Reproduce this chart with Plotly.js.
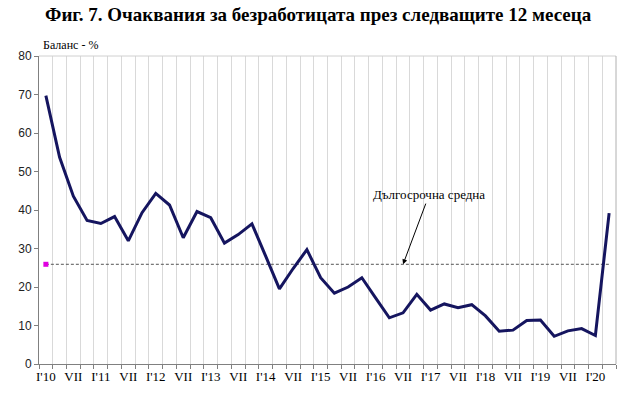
<!DOCTYPE html>
<html>
<head>
<meta charset="utf-8">
<script src="https://cdn.plot.ly/plotly-3.0.1.min.js"></script>
<style>html,body{margin:0;padding:0;background:#fff;}#chart{width:630px;height:397px;}</style>
</head>
<body>
<div id="chart"></div>
<script>
// Quarters Q1 2010 .. Q2 2020
const quarters = [
  "2010Q1","2010Q2","2010Q3","2010Q4","2011Q1","2011Q2","2011Q3","2011Q4",
  "2012Q1","2012Q2","2012Q3","2012Q4","2013Q1","2013Q2","2013Q3","2013Q4",
  "2014Q1","2014Q2","2014Q3","2014Q4","2015Q1","2015Q2","2015Q3","2015Q4",
  "2016Q1","2016Q2","2016Q3","2016Q4","2017Q1","2017Q2","2017Q3","2017Q4",
  "2018Q1","2018Q2","2018Q3","2018Q4","2019Q1","2019Q2","2019Q3","2019Q4",
  "2020Q1","2020Q2"
];
const balance = [
  69.7, 53.7, 43.6, 37.3, 36.5, 38.3, 32.0, 39.3,
  44.3, 41.3, 32.8, 39.6, 38.0, 31.4, 33.6, 36.4,
  28.0, 19.5, 24.8, 29.7, 22.4, 18.4, 20.0, 22.4,
  17.2, 12.0, 13.3, 18.1, 14.0, 15.6, 14.6, 15.4,
  12.5, 8.5, 8.8, 11.3, 11.4, 7.2, 8.6, 9.2,
  7.4, 39.2
];
const longTermAvg = 25.9;
const tickLabels = ["I'10","VII","I'11","VII","I'12","VII","I'13","VII","I'14","VII",
  "I'15","VII","I'16","VII","I'17","VII","I'18","VII","I'19","VII","I'20"];

const xIdx = quarters.map((q, i) => i);
const tickIdx = tickLabels.map((t, i) => i * 2);
const lastIdx = quarters.length - 1;
const SERIF = 'Liberation Serif, Times New Roman, serif';

const traces = [
  {
    x: [0, lastIdx], y: [longTermAvg, longTermAvg],
    type: 'scatter', mode: 'lines',
    line: {color: '#555555', width: 1, dash: '3px,2px'},
    hoverinfo: 'skip', showlegend: false
  },
  {
    x: [0], y: [longTermAvg],
    type: 'scatter', mode: 'markers',
    marker: {color: '#e000e0', size: 5, symbol: 'square'},
    showlegend: false
  },
  {
    x: xIdx, y: balance,
    type: 'scatter', mode: 'lines',
    line: {color: '#15155f', width: 3},
    showlegend: false
  }
];

const layout = {
  width: 630, height: 397,
  margin: {l: 39, r: 14, t: 56, b: 33},
  paper_bgcolor: '#ffffff', plot_bgcolor: '#ffffff',
  title: {
    text: '<b>Фиг. 7. Очаквания за безработицата през следващите 12 месеца</b>',
    font: {family: SERIF, size: 19, color: '#000'},
    x: 0.505, xanchor: 'center', y: 0.965, yanchor: 'middle'
  },
  xaxis: {
    range: [-0.5, lastIdx + 0.5],
    tickmode: 'array', tickvals: tickIdx, ticktext: tickLabels,
    ticks: '', showgrid: false, zeroline: false,
    showline: true, linecolor: '#808080', linewidth: 1,
    tickfont: {family: SERIF, size: 13, color: '#000'},
    minor: {tick0: -0.5, dtick: 1, ticks: 'outside', ticklen: 4, tickcolor: '#808080',
            showgrid: true, gridcolor: '#d9d9d9', gridwidth: 1},
    fixedrange: true
  },
  yaxis: {
    range: [0, 80], dtick: 10, tick0: 0,
    ticks: 'outside', ticklen: 4, tickcolor: '#808080',
    showgrid: false, zeroline: false,
    showline: true, linecolor: '#808080', linewidth: 1,
    tickfont: {family: 'Liberation Sans, Arial, sans-serif', size: 12, color: '#222'},
    fixedrange: true
  },
  shapes: [
    {type: 'line', xref: 'paper', yref: 'paper', x0: 0, x1: 1, y0: 1, y1: 1,
     line: {color: '#d0d0d0', width: 1}},
    {type: 'line', xref: 'paper', yref: 'paper', x0: 1, x1: 1, y0: 0, y1: 1,
     line: {color: '#b0b0b0', width: 1}}
  ],
  annotations: [
    {text: 'Баланс - %', xref: 'paper', yref: 'paper', x: 0.004, y: 1.0, yshift: 11,
     xanchor: 'left', yanchor: 'middle', showarrow: false,
     font: {family: SERIF, size: 12, color: '#000'}},
    {text: 'Дългосрочна средна', xref: 'x', yref: 'y', x: 26, y: longTermAvg,
     ax: 27.9, ay: 44.0, axref: 'x', ayref: 'y',
     showarrow: true, arrowhead: 2, arrowsize: 1, arrowwidth: 1, arrowcolor: '#000',
     standoff: 0,
     font: {family: SERIF, size: 13, color: '#000'}}
  ]
};

Plotly.newPlot('chart', traces, layout, {displayModeBar: false, staticPlot: true});
</script>
</body>
</html>
